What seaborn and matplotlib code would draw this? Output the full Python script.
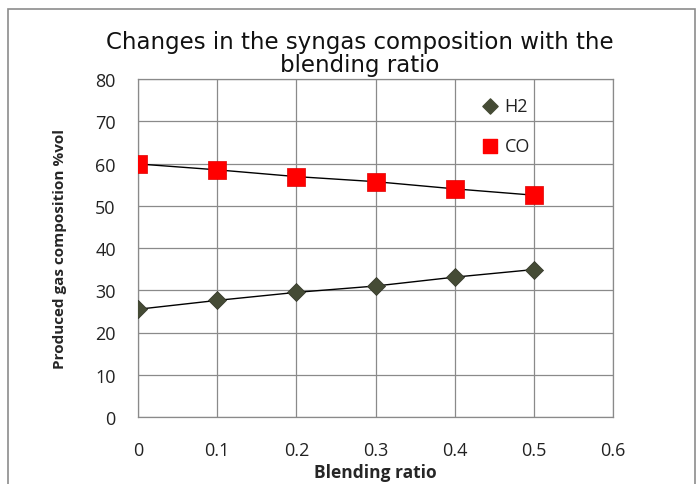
import matplotlib
matplotlib.use("Agg")
import matplotlib.pyplot as plt
import seaborn as sns
import pandas as pd

# values
blending_ratio = [0.0, 0.1, 0.2, 0.3, 0.4, 0.5]
h2 = [25.5, 27.6, 29.5, 31.0, 33.1, 34.9]
co = [59.9, 58.5, 56.9, 55.7, 54.0, 52.5]

x_ticks = [0, 0.1, 0.2, 0.3, 0.4, 0.5, 0.6]
x_tick_labels = ["0", "0.1", "0.2", "0.3", "0.4", "0.5", "0.6"]
y_ticks = [0, 10, 20, 30, 40, 50, 60, 70, 80]

df = pd.DataFrame({"ratio": blending_ratio, "H2": h2, "CO": co})

sns.set_style("white")
plt.rcParams["font.family"] = ["Open Sans", "DejaVu Sans"]

fig = plt.figure(figsize=(7, 4.85), dpi=100)
ax = fig.add_axes([138 / 700, 1 - 418 / 485, (613 - 138) / 700, (418 - 80) / 485])

# outer chart-area border
fig.patches.append(plt.Rectangle((8 / 700, -0.01), 687 / 700, 1 - 10 / 485 + 0.01,
                                 transform=fig.transFigure, fill=False,
                                 edgecolor="#8c8c8c", linewidth=1.2))

# connecting lines
sns.lineplot(data=df, x="ratio", y="H2", ax=ax, color="black", linewidth=1, legend=False)
sns.lineplot(data=df, x="ratio", y="CO", ax=ax, color="black", linewidth=1, legend=False)

# markers
sns.scatterplot(data=df, x="ratio", y="H2", ax=ax, marker="D", s=85,
                color="#454b35", edgecolor="#303326", linewidth=0.5, zorder=3)
sns.scatterplot(data=df, x="ratio", y="CO", ax=ax, marker="s", s=170,
                color="#ff0000", edgecolor="#e00000", linewidth=0.5, zorder=3)

ax.set_xlim(0, 0.6)
ax.set_ylim(0, 80)
ax.set_xticks(x_ticks)
ax.set_xticklabels(x_tick_labels)
ax.set_yticks(y_ticks)
ax.grid(True, color="#8a8a8a", linewidth=0.9)
ax.set_axisbelow(True)
for s in ax.spines.values():
    s.set_color("#8a8a8a")
    s.set_linewidth(0.9)
ax.tick_params(axis="both", labelsize=13, colors="#222222", length=4, direction="out")
ax.tick_params(axis="x", pad=13)
ax.tick_params(axis="y", pad=12)
ax.tick_params(axis="both", color="#8a8a8a")

ax.set_xlabel("Blending ratio", fontsize=12.5, fontweight="bold", labelpad=3)
ax.set_ylabel("Produced gas composition %vol", fontsize=11, fontweight="bold", labelpad=20)

fig.text(360 / 700, 1 - 54 / 485, "Changes in the syngas composition with the\nblending ratio",
         ha="center", va="center", fontsize=16.5, family=["DejaVu Sans"],
         linespacing=0.95, color="#111111")

# legend entries
ax.scatter([0.445], [73.6], marker="D", s=60, color="#454b35", clip_on=False, zorder=4)
ax.text(0.463, 73.6, "H2", fontsize=13, va="center", color="#222222")
ax.scatter([0.445], [64.2], marker="s", s=100, color="#ff0000", clip_on=False, zorder=4)
ax.text(0.463, 64.2, "CO", fontsize=13, va="center", color="#222222")

fig.savefig("out.png", dpi=100)
